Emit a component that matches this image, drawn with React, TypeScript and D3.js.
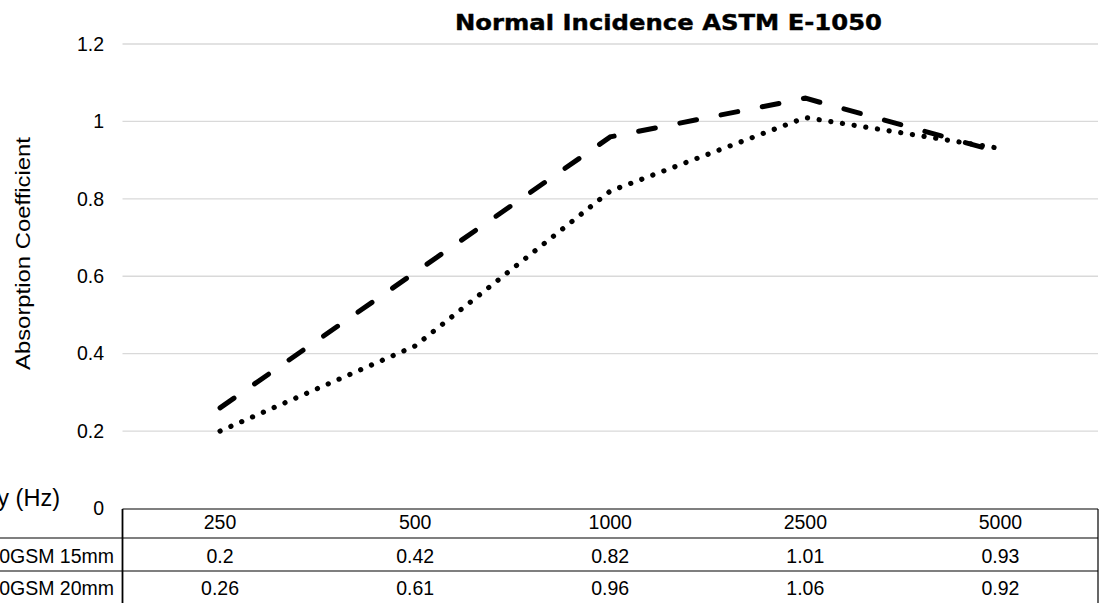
import React from "react";
import * as d3 from "d3";

const categories = ["250", "500", "1000", "2500", "5000"];
const seriesNames = ["400GSM 15mm", "600GSM 20mm"];
const series15 = [0.2, 0.42, 0.82, 1.01, 0.93];
const series20 = [0.26, 0.61, 0.96, 1.06, 0.92];
const yTicks = [0, 0.2, 0.4, 0.6, 0.8, 1, 1.2];
const title = "Normal Incidence ASTM E-1050";
const yTitle = "Absorption Coefficient";
const xTitle = "Frequency (Hz)";

const W = 1102;
const H = 603;
const left = 122.5;
const right = 1098;
const top = 44;
const bottom = 508.5;
const font = "'Liberation Sans', Arial, sans-serif";
const fs = 19.5;

export default function App() {
  const x = d3.scaleBand<string>().domain(categories).range([left, right]);
  const y = d3.scaleLinear().domain([0, 1.2]).range([bottom, top]);
  const cx = (c: string) => (x(c) as number) + x.bandwidth() / 2;
  const line = d3
    .line<number>()
    .x((_, i) => cx(categories[i]))
    .y((d) => y(d));

  const rowTops = [509, 538, 571];
  const rows = [
    { label: xTitle, values: categories, base: 529, labelX: 60, labelY: 506, labelSize: 23.5 },
    { label: seriesNames[0], values: series15.map(String), base: 563, labelX: 114, labelY: 563, labelSize: fs },
    { label: seriesNames[1], values: series20.map(String), base: 595, labelX: 114, labelY: 595, labelSize: fs },
  ];

  return (
    <svg
      width={W}
      height={H}
      style={{ position: "absolute", left: 0, top: 0, background: "#fff" }}
      fontFamily={font}
    >
      <rect width={W} height={H} fill="#fff" />
      {/* gridlines */}
      {yTicks
        .filter((t) => t > 0)
        .map((t) => (
          <line key={t} x1={left} x2={right} y1={y(t)} y2={y(t)} stroke="#d9d9d9" strokeWidth={1.3} />
        ))}
      {/* y tick labels */}
      {yTicks.map((t) => (
        <text key={t} x={104} y={y(t)} dy="0.35em" textAnchor="end" fontSize={fs} fill="#000">
          {String(t)}
        </text>
      ))}
      {/* y title */}
      <text
        transform={`translate(30,253.5) rotate(-90)`}
        textAnchor="middle"
        fontSize={21}
        textLength={233}
        lengthAdjust="spacingAndGlyphs"
        fill="#000"
      >
        {yTitle}
      </text>
      {/* title */}
      <text
        x={455}
        y={30}
        fontSize={22}
        fontWeight={900}
        fontFamily="'Arial Black', 'DejaVu Sans', sans-serif"
        textLength={427}
        lengthAdjust="spacingAndGlyphs"
        fill="#000"
        stroke="#000"
        strokeWidth={0.4}
      >
        {title}
      </text>
      {/* series lines */}
      <path
        d={line(series15) || ""}
        fill="none"
        stroke="#000"
        strokeWidth={5.2}
        strokeLinecap="round"
        strokeDasharray="0.1 11.7"
      />
      <path
        d={line(series20) || ""}
        fill="none"
        stroke="#000"
        strokeWidth={5}
        strokeLinecap="round"
        strokeDasharray="17 25"
      />
      {/* data table */}
      <line x1={left} x2={right} y1={rowTops[0]} y2={rowTops[0]} stroke="#000" strokeWidth={1.2} />
      <line x1={0} x2={right} y1={rowTops[1]} y2={rowTops[1]} stroke="#000" strokeWidth={1.2} />
      <line x1={0} x2={right} y1={rowTops[2]} y2={rowTops[2]} stroke="#000" strokeWidth={1.2} />
      <line x1={left} x2={left} y1={rowTops[0]} y2={H} stroke="#000" strokeWidth={1.8} />
      <line x1={right} x2={right} y1={rowTops[0]} y2={H} stroke="#000" strokeWidth={1.2} />
      {rows.map((r, ri) => (
        <g key={ri}>
          <text x={r.labelX} y={r.labelY} textAnchor="end" fontSize={r.labelSize} fill="#000">
            {r.label}
          </text>
          {r.values.map((v, i) => (
            <text key={i} x={cx(categories[i])} y={r.base} textAnchor="middle" fontSize={fs} fill="#000">
              {v}
            </text>
          ))}
        </g>
      ))}
    </svg>
  );
}
